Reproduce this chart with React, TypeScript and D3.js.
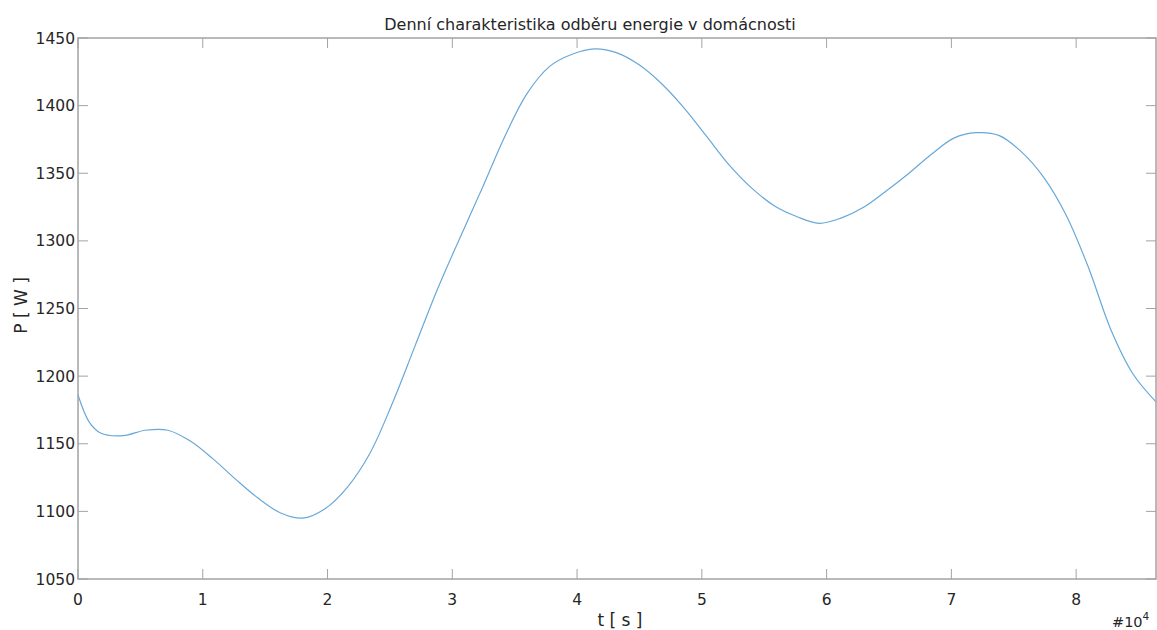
import React from "react";
import * as d3 from "d3";

const timeS: number[] = [
  0, 900, 1800, 3600, 5400, 7200, 9000, 10800, 12600, 14400, 16200, 18000, 19800,
  21600, 23400, 25200, 27000, 28800, 30600, 32400, 34200, 36000, 37800, 39600,
  41400, 43200, 45000, 46800, 48600, 50400, 52200, 54000, 55800, 57600, 59400,
  61200, 63000, 64800, 66600, 68400, 70200, 72000, 73800, 75600, 77400, 79200,
  81000, 82800, 84600, 86400,
];
const powerW: number[] = [
  1186, 1166, 1158, 1156, 1160, 1160, 1152, 1139, 1124, 1110, 1099, 1095, 1102,
  1118, 1143, 1180, 1222, 1264, 1302, 1339, 1377, 1409, 1429, 1438,
  1442, 1439, 1430, 1416, 1398, 1377, 1356, 1339, 1326, 1318, 1313,
  1317, 1325, 1337, 1350, 1364, 1376, 1380, 1378, 1366, 1347, 1319,
  1280, 1234, 1201, 1181,
];
const xTicks: number[] = [0, 10000, 20000, 30000, 40000, 50000, 60000, 70000, 80000];
const yTicks: number[] = [1050, 1100, 1150, 1200, 1250, 1300, 1350, 1400, 1450];
const title = "Denní charakteristika odběru energie v domácnosti";
const xLabel = "t [ s ]";
const yLabel = "P [ W ]";

export default function App() {
  const W = 1157, H = 630;
  const left = 78, right = 1156, top = 38, bottom = 579;
  const x = d3.scaleLinear().domain([0, 86400]).range([left, right]);
  const y = d3.scaleLinear().domain([1050, 1450]).range([bottom, top]);
  const line = d3
    .line<number>()
    .x((_, i) => x(timeS[i]))
    .y((d) => y(d))
    .curve(d3.curveCatmullRom.alpha(0.5));
  const axisColor = "#a3a3a3";
  const textColor = "#262626";
  const font = "DejaVu Sans, sans-serif";
  const tl = 10;
  return (
    <svg
      width={W}
      height={H}
      style={{ position: "absolute", left: 0, top: 0, background: "#fff" }}
      fontFamily={font}
    >
      <rect x={0} y={0} width={W} height={H} fill="#fff" />
      <path d={line(powerW) || ""} fill="none" stroke="#68a8d8" strokeWidth={1.2} />
      <rect
        x={left}
        y={top}
        width={right - left}
        height={bottom - top}
        fill="none"
        stroke={axisColor}
        strokeWidth={1.5}
      />
      {xTicks.map((t) => (
        <g key={"x" + t}>
          <line x1={x(t)} x2={x(t)} y1={bottom} y2={bottom - tl} stroke={axisColor} />
          <line x1={x(t)} x2={x(t)} y1={top} y2={top + tl} stroke={axisColor} />
          <text x={x(t)} y={605} textAnchor="middle" fontSize={15.5} fill={textColor}>
            {t / 10000}
          </text>
        </g>
      ))}
      {yTicks.map((v) => (
        <g key={"y" + v}>
          <line x1={left} x2={left + tl} y1={y(v)} y2={y(v)} stroke={axisColor} />
          <line x1={right} x2={right - tl} y1={y(v)} y2={y(v)} stroke={axisColor} />
          <text
            x={75}
            y={y(v)}
            dy="0.36em"
            textAnchor="end"
            fontSize={15.5}
            fill={textColor}
          >
            {v}
          </text>
        </g>
      ))}
      <text x={1112} y={627} fontSize={14.5} fill={textColor}>
        #10
        <tspan fontSize={10.5} dy={-7}>
          4
        </tspan>
      </text>
      <text x={590} y={30} textAnchor="middle" fontSize={16} fill={textColor}>
        {title}
      </text>
      <text x={620} y={626} textAnchor="middle" fontSize={17} fill={textColor}>
        {xLabel}
      </text>
      <text
        transform={`translate(27, ${(top + bottom) / 2 - 3}) rotate(-90)`}
        textAnchor="middle"
        fontSize={17}
        fill={textColor}
      >
        {yLabel}
      </text>
    </svg>
  );
}
